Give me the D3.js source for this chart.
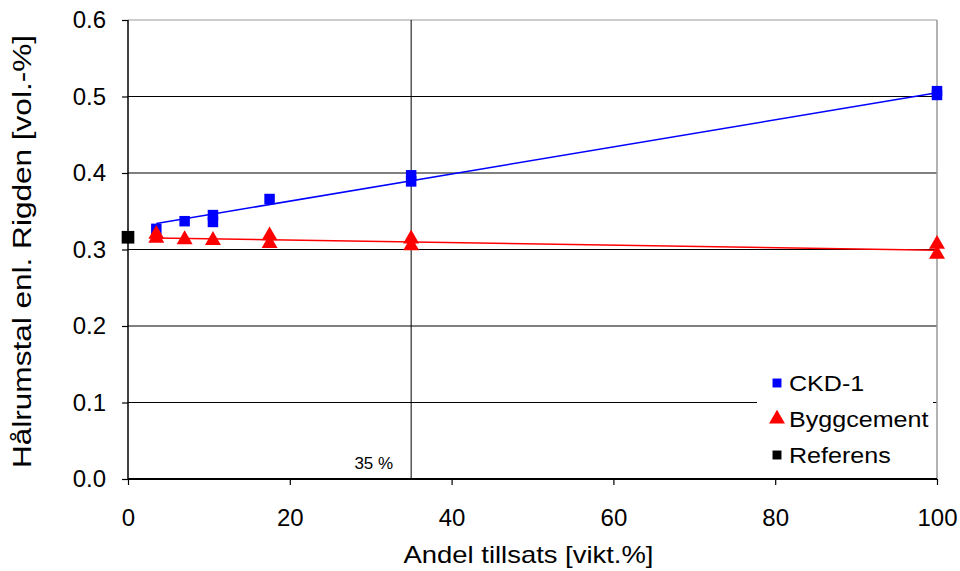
<!DOCTYPE html>
<html>
<head>
<meta charset="utf-8">
<script src="https://cdn.jsdelivr.net/npm/d3@7"></script>
<style>
  body { margin: 0; background: #fff; }
  text { font-family: "Liberation Sans", Arial, sans-serif; }
</style>
</head>
<body>
<svg id="wykres"></svg>
<script>
// dane

let ckdX = [3.5, 7, 10.5, 10.5, 17.5, 35, 35, 100, 100];
let ckdY = [0.327, 0.337, 0.345, 0.336, 0.366, 0.397, 0.389, 0.507, 0.502];

let byggX = [3.5, 3.5, 7, 10.5, 17.5, 17.5, 35, 35, 100, 100];
let byggY = [0.320, 0.315, 0.313, 0.312, 0.318, 0.308, 0.314, 0.305, 0.307, 0.294];

let refX = [0];
let refY = [0.316];

// linie trendu (punkty końcowe)
let ckdTrendX = [3.5, 100];
let ckdTrendY = [0.334, 0.505];
let byggTrendX = [3.5, 100];
let byggTrendY = [0.315, 0.299];

let xTicks = [0, 20, 40, 60, 80, 100];
let yTicks = [0.0, 0.1, 0.2, 0.3, 0.4, 0.5, 0.6];
let markLine = 35; // linia pionowa 35 %

let legendNames = ['CKD-1', 'Byggcement', 'Referens'];

rysuj();

function rysuj() {
	let W = 960, H = 571;
	let m = {left: 128, top: 20, right: 23, bottom: 92};
	let w = W - m.left - m.right;
	let h = H - m.top - m.bottom;

	let svg = d3.select('#wykres').attr('width', W).attr('height', H);

	let x = d3.scaleLinear().domain([0, 100]).range([0, w]);
	let y = d3.scaleLinear().domain([0, 0.6]).range([h, 0]);

	let g = svg.append('g').attr('transform', 'translate(' + m.left + ',' + m.top + ')');

	// siatka pozioma
	g.selectAll('.grid')
		.data(yTicks.filter(d => d > 0 && d < 0.6))
		.enter().append('line')
		.attr('x1', 0).attr('x2', w)
		.attr('y1', d => y(d)).attr('y2', d => y(d))
		.attr('stroke', '#000').attr('stroke-width', 1);

	// ramka górna i prawa (szara)
	g.append('line').attr('x1', 0).attr('x2', w).attr('y1', y(0.6)).attr('y2', y(0.6))
		.attr('stroke', '#999').attr('stroke-width', 1);
	g.append('line').attr('x1', w).attr('x2', w).attr('y1', 0).attr('y2', h)
		.attr('stroke', '#999').attr('stroke-width', 1.5);

	// linia 35 %
	g.append('line').attr('x1', x(markLine)).attr('x2', x(markLine)).attr('y1', 0).attr('y2', h)
		.attr('stroke', '#000').attr('stroke-width', 1);

	g.append('text')
		.attr('x', x(markLine) - 18).attr('y', h - 10)
		.attr('text-anchor', 'end')
		.attr('font-size', 17)
		.text(markLine + ' %');

	// legenda - tło
	let lg = g.append('g').attr('transform', 'translate(' + (w - 180) + ',' + (h - 117) + ')');
	lg.append('rect').attr('width', 176).attr('height', 115).attr('fill', '#fff');

	// osie
	let xAxis = d3.axisBottom(x).tickValues(xTicks).tickSize(6).tickFormat(d3.format('d'));
	let yAxis = d3.axisLeft(y).tickValues(yTicks).tickSize(6).tickFormat(d3.format('.1f'));

	let gx = g.append('g').attr('transform', 'translate(0,' + h + ')').call(xAxis);
	let gy = g.append('g').call(yAxis);

	gx.select('.domain').attr('stroke-width', 2);
	gy.select('.domain').attr('stroke-width', 1.5);
	gx.selectAll('.tick line').attr('stroke-width', 1.2);
	gy.selectAll('.tick line').attr('stroke-width', 1.2);
	gx.selectAll('.tick text').attr('font-size', 24).attr('font-family', 'Liberation Sans, Arial')
		.attr('y', 47).attr('dy', 0).attr('fill', '#000');
	gy.selectAll('.tick text').attr('font-size', 24).attr('font-family', 'Liberation Sans, Arial')
		.attr('x', -22).attr('fill', '#000');
	gx.select('.domain').attr('d', 'M0,0H' + w);
	gy.select('.domain').attr('d', 'M0,' + h + 'V0');

	// linie trendu
	let line = d3.line().x(d => x(d[0])).y(d => y(d[1]));
	g.append('path')
		.datum(ckdTrendX.map((v, i) => [v, ckdTrendY[i]]))
		.attr('d', line).attr('fill', 'none').attr('stroke', '#0000ff').attr('stroke-width', 1.5);
	g.append('path')
		.datum(byggTrendX.map((v, i) => [v, byggTrendY[i]]))
		.attr('d', line).attr('fill', 'none').attr('stroke', '#ff0000').attr('stroke-width', 1.5);

	// punkty
	let sq = d3.symbol().type(d3.symbolSquare);
	let tri = d3.symbol().type(d3.symbolTriangle);

	g.selectAll('.ckd')
		.data(ckdX.map((v, i) => [v, ckdY[i]]))
		.enter().append('path')
		.attr('d', sq.size(110))
		.attr('transform', d => 'translate(' + x(d[0]) + ',' + y(d[1]) + ')')
		.attr('fill', '#0000ff');

	g.selectAll('.bygg')
		.data(byggX.map((v, i) => [v, byggY[i]]))
		.enter().append('path')
		.attr('d', tri.size(110))
		.attr('transform', d => 'translate(' + x(d[0]) + ',' + y(d[1]) + ')')
		.attr('fill', '#ff0000');

	g.selectAll('.ref')
		.data(refX.map((v, i) => [v, refY[i]]))
		.enter().append('path')
		.attr('d', sq.size(160))
		.attr('transform', d => 'translate(' + x(d[0]) + ',' + y(d[1]) + ')')
		.attr('fill', '#000');

	// legenda - wpisy
	let kolory = ['#0000ff', '#ff0000', '#000'];
	let symbole = [d3.symbolSquare, d3.symbolTriangle, d3.symbolSquare];
	let wpisy = lg.selectAll('.wpis')
		.data(legendNames)
		.enter().append('g')
		.attr('transform', (d, i) => 'translate(20,' + (21 + i * 36) + ')');
	wpisy.append('path')
		.attr('d', (d, i) => d3.symbol().type(symbole[i]).size(i == 1 ? 110 : 80)())
		.attr('fill', (d, i) => kolory[i]);
	wpisy.append('text')
		.attr('x', 12).attr('dy', '0.36em')
		.attr('font-size', 22)
		.text(d => d)
		.each(function() {
			// tekst w legendzie jest nieco rozciągnięty
			let dl = this.getComputedTextLength();
			d3.select(this).attr('textLength', dl * 1.14).attr('lengthAdjust', 'spacingAndGlyphs');
		});

	// tytuły osi
	svg.append('text')
		.attr('x', m.left + x(50) - 4).attr('y', 563)
		.attr('text-anchor', 'middle')
		.attr('font-size', 24)
		.attr('textLength', 250).attr('lengthAdjust', 'spacingAndGlyphs')
		.text('Andel tillsats [vikt.%]');

	svg.append('text')
		.attr('transform', 'translate(31,' + (m.top + h / 2 + 2) + ') rotate(-90)')
		.attr('text-anchor', 'middle')
		.attr('font-size', 25)
		.attr('textLength', 433).attr('lengthAdjust', 'spacingAndGlyphs')
		.text('Hålrumstal enl. Rigden [vol.-%]');
}
</script>
</body>
</html>
